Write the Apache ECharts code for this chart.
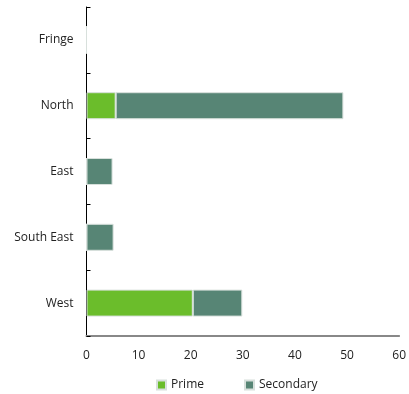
<!DOCTYPE html>
<html>
<head>
<meta charset="utf-8">
<script src="https://cdn.jsdelivr.net/npm/echarts@6/dist/echarts.min.js"></script>
<style>
html,body{margin:0;padding:0;background:#fff;}
#chart{width:409px;height:394px;}
</style>
</head>
<body>
<div id="chart"></div>
<script>
var categories = ['West', 'South East', 'East', 'North', 'Fringe'];
var primeValues = [20.4, 0, 0, 5.6, 0];
var secondaryValues = [9.5, 5.2, 5.0, 43.7, 0];
var xTicks = [0, 10, 20, 30, 40, 50, 60];

var FONT = '"Open Sans", "Noto Sans", sans-serif';
var chart = echarts.init(document.getElementById('chart'), null, {renderer: 'canvas'});
chart.setOption({
  animation: false,
  backgroundColor: '#fff',
  textStyle: {fontFamily: FONT},
  grid: {left: 86.5, right: 5, top: 7, bottom: 58, containLabel: false},
  legend: {
    data: ['Prime', 'Secondary'],
    left: 156, top: 379, padding: 0,
    itemWidth: 9, itemHeight: 9, itemGap: 40,
    icon: 'rect',
    textStyle: {fontSize: 12, color: '#222', fontFamily: FONT}
  },
  xAxis: {
    type: 'value',
    min: xTicks[0], max: xTicks[xTicks.length - 1], interval: 10,
    axisLine: {show: true, lineStyle: {color: '#888', width: 2}},
    axisTick: {show: false},
    splitLine: {show: false},
    axisLabel: {color: '#222', fontSize: 12, margin: 14, fontFamily: FONT,
      formatter: function (v) { return xTicks.indexOf(v) >= 0 ? String(v) : ''; }}
  },
  yAxis: {
    type: 'category',
    data: categories,
    axisLine: {show: true, lineStyle: {color: '#000', width: 1}},
    axisTick: {show: true, inside: true, length: 4, lineStyle: {color: '#000'}},
    axisLabel: {color: '#222', fontSize: 12, margin: 13, fontFamily: FONT},
    splitLine: {show: false}
  },
  series: [
    {
      name: 'Prime', type: 'bar', stack: 'total', data: primeValues,
      barWidth: '41%',
      itemStyle: {color: '#6bbd2b', borderColor: '#d8e0dc', borderWidth: 1}
    },
    {
      name: 'Secondary', type: 'bar', stack: 'total', data: secondaryValues,
      barWidth: '41%',
      itemStyle: {color: '#578575', borderColor: '#d8e0dc', borderWidth: 1}
    }
  ]
});
</script>
</body>
</html>
